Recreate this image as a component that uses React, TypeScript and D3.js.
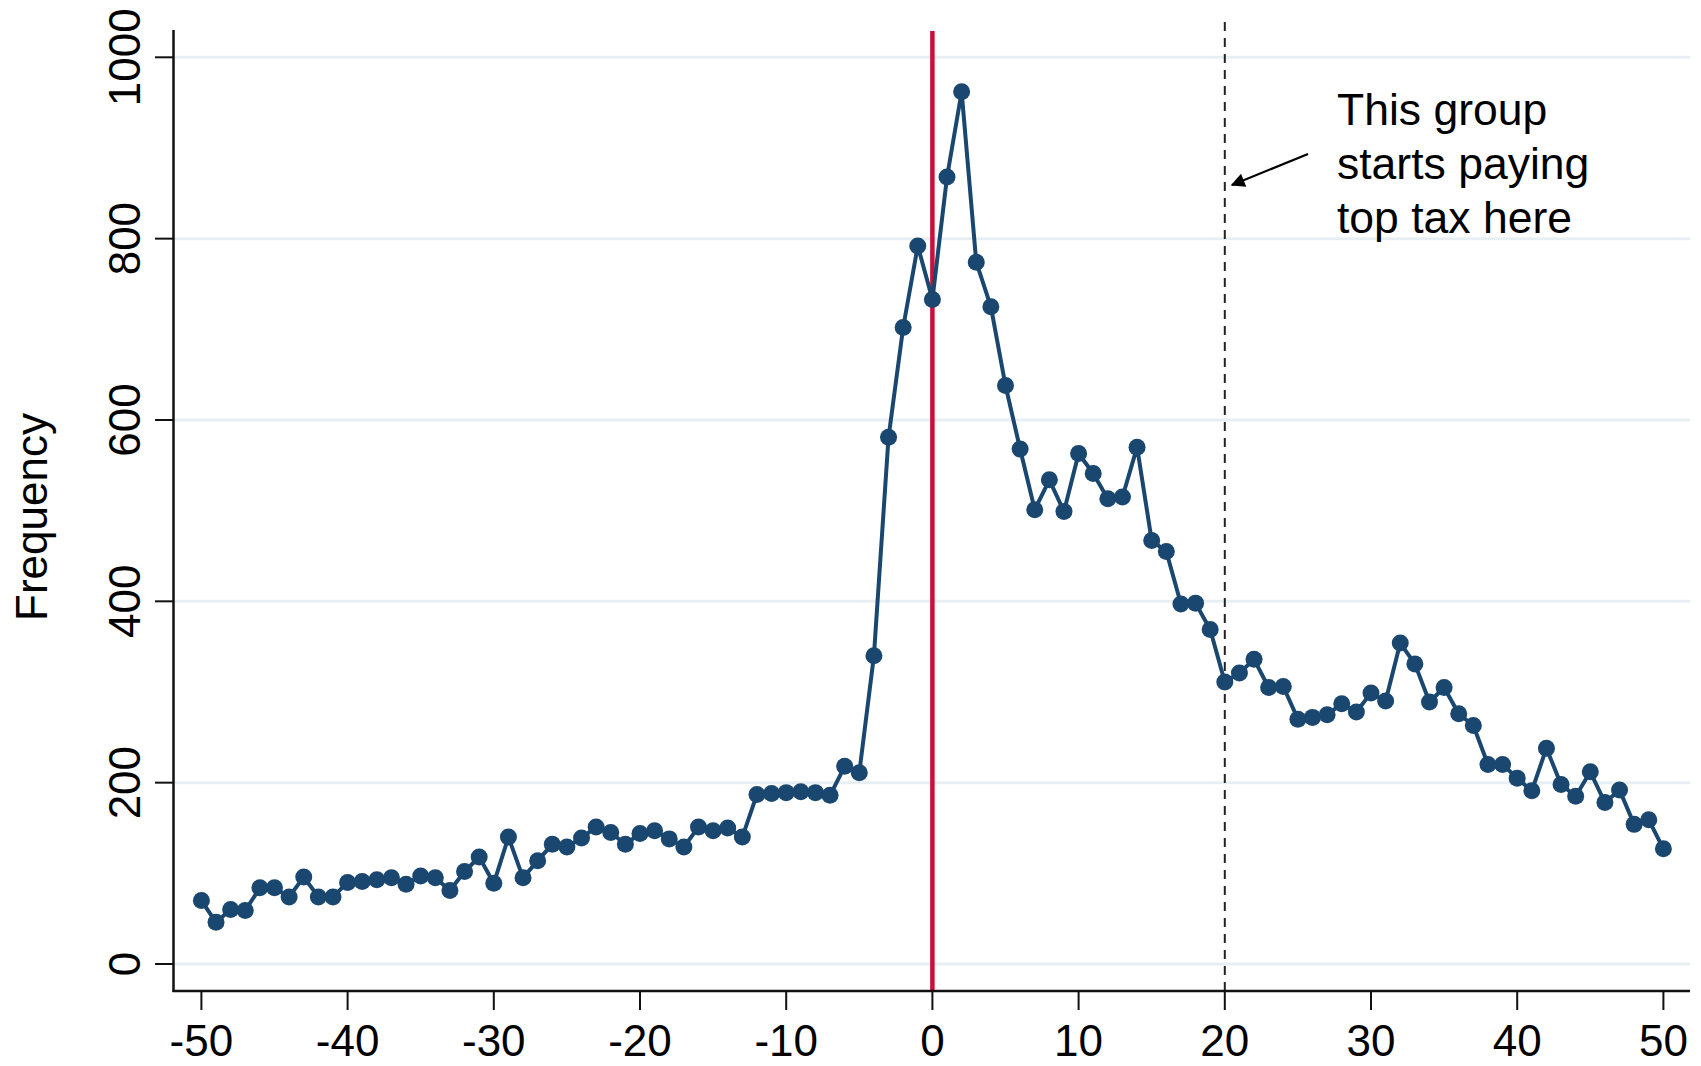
import React from "react";
import * as d3 from "d3";

const bins: number[] = d3.range(-50, 51);
const frequency: number[] = [
  70, 46, 60, 59, 84, 84, 74, 96, 74, 74,
  90, 91, 93, 95, 88, 97, 95, 81, 102, 118,
  89, 140, 95, 114, 132, 129, 139, 151, 145, 132,
  144, 147, 138, 129, 151, 147, 150, 140, 187, 188,
  189, 190, 189, 186, 218, 211, 340, 581, 702, 792,
  733, 868, 962, 774, 725, 638, 568, 501, 534, 499,
  563, 541, 513, 515, 570, 467, 455, 397, 398, 369,
  311, 321, 336, 305, 306, 270, 272, 275, 287, 278,
  299, 290, 354, 331, 289, 305, 276, 263, 220, 220,
  205, 191, 238, 198, 185, 212, 178, 192, 154, 159, 127,
];
const xTicks: number[] = [-50, -40, -30, -20, -10, 0, 10, 20, 30, 40, 50];
const yTicks: number[] = [0, 200, 400, 600, 800, 1000];
const cutoff = 0;
const topTaxStart = 20;
const yTitle = "Frequency";
const noteLines: string[] = ["This group", "starts paying", "top tax here"];

const W = 1701;
const H = 1066;
const FONT = "Arial, 'Liberation Sans', Helvetica, sans-serif";

export default function App() {
  const x = d3.scaleLinear().domain([-50, 50]).range([201.4, 1663.4]);
  const y = d3.scaleLinear().domain([0, 1000]).range([964, 57.3]);
  const left = 173.5;
  const right = 1690;
  const bottom = 991;
  const top = 30;
  const data = bins.map((b, i) => ({ b, v: frequency[i] }));
  const line = d3
    .line<{ b: number; v: number }>()
    .x((d) => x(d.b))
    .y((d) => y(d.v));
  const navy = "#1a476f";

  return (
    <div style={{ position: "absolute", left: 0, top: 0 }}>
      <svg width={W} height={H} style={{ display: "block", background: "#fff" }}>
        <defs>
          <marker id="ah" viewBox="0 0 10 10" refX="9" refY="5" markerWidth="20" markerHeight="14" markerUnits="userSpaceOnUse" orient="auto">
            <path d="M0,0 L10,5 L0,10 z" fill="#000" />
          </marker>
        </defs>
        <rect x={0} y={0} width={W} height={H} fill="#fff" />
        {/* gridlines */}
        {yTicks.map((t) => (
          <line key={"g" + t} x1={left} x2={right} y1={y(t)} y2={y(t)} stroke="#e8eff2" strokeWidth={3} />
        ))}
        {/* reference lines */}
        <line x1={x(topTaxStart)} x2={x(topTaxStart)} y1={22} y2={bottom} stroke="#222" strokeWidth={2} strokeDasharray="9,7" />
        <line x1={x(cutoff)} x2={x(cutoff)} y1={31} y2={bottom} stroke="#c8103a" strokeWidth={4.5} />
        {/* series */}
        <path d={line(data) || ""} fill="none" stroke={navy} strokeWidth={4} strokeLinejoin="round" />
        {data.map((d) => (
          <circle key={d.b} cx={x(d.b)} cy={y(d.v)} r={8.5} fill={navy} />
        ))}
        {/* axes */}
        <line x1={left} x2={left} y1={top} y2={bottom + 1} stroke="#111" strokeWidth={2.5} />
        <line x1={left - 1} x2={right} y1={bottom} y2={bottom} stroke="#111" strokeWidth={2.5} />
        {yTicks.map((t) => (
          <g key={"yt" + t}>
            <line x1={155} x2={left} y1={y(t)} y2={y(t)} stroke="#111" strokeWidth={2} />
            <text
              transform={`translate(140,${y(t)}) rotate(-90)`}
              textAnchor="middle"
              fontFamily={FONT}
              fontSize={44}
              fill="#000"
            >
              {t}
            </text>
          </g>
        ))}
        {xTicks.map((t) => (
          <g key={"xt" + t}>
            <line x1={x(t)} x2={x(t)} y1={bottom} y2={1010} stroke="#111" strokeWidth={2} />
            <text x={x(t)} y={1056} textAnchor="middle" fontFamily={FONT} fontSize={44} fill="#000">
              {t}
            </text>
          </g>
        ))}
        <text
          transform={`translate(47,517) rotate(-90)`}
          textAnchor="middle"
          fontFamily={FONT}
          fontSize={44}
          fill="#000"
        >
          {yTitle}
        </text>
        {/* annotation */}
        {noteLines.map((s, i) => (
          <text key={s} x={1337} y={125 + i * 54} fontFamily={FONT} fontSize={44.5} fill="#000">
            {s}
          </text>
        ))}
        <line x1={1308} y1={154} x2={1232} y2={185} stroke="#000" strokeWidth={2.2} markerEnd="url(#ah)" />
      </svg>
    </div>
  );
}
